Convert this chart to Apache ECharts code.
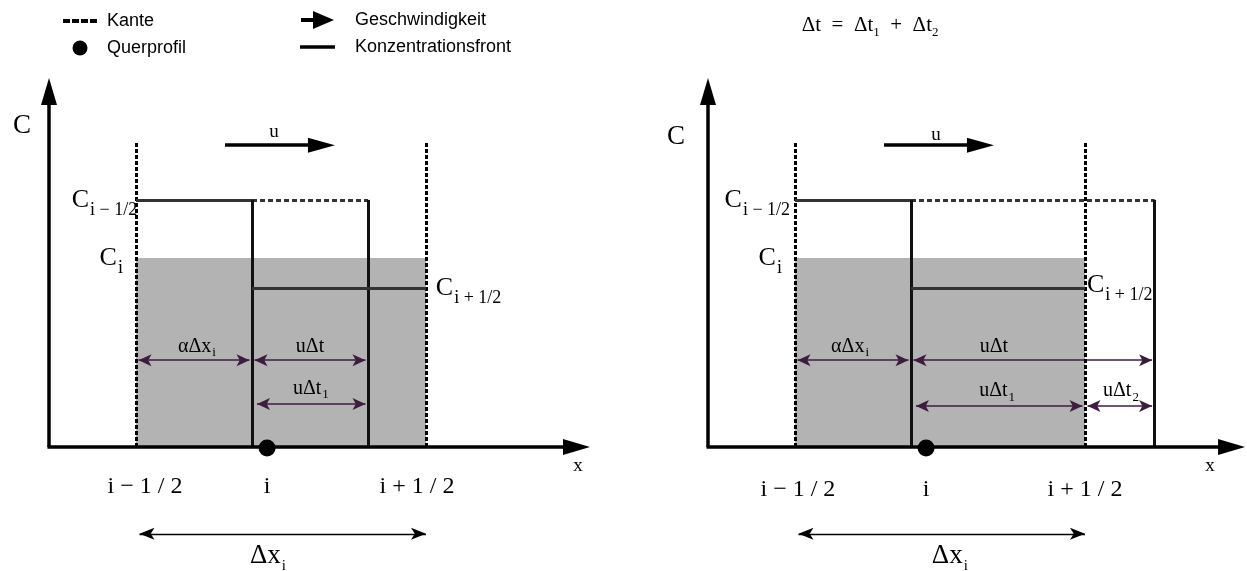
<!DOCTYPE html>
<html><head><meta charset="utf-8">
<script src="https://cdn.jsdelivr.net/npm/echarts@6/dist/echarts.min.js"></script>
<style>html,body{margin:0;padding:0;background:#fff}#c{width:1247px;height:571px}</style>
</head><body><div id="c"></div>
<script>
// ---------- data (in units of the cell width Δx_i and of the C axis) ----------
const legendNames = ['Kante', 'Querprofil', 'Geschwindigkeit', 'Konzentrationsfront'];
const tickLabels = ['i − 1 / 2', 'i', 'i + 1 / 2'];
const edgeX = [0, 1];                 // Kanten i-1/2 und i+1/2
const profileX = 0.452;               // Querprofil i
const alphaX = 0.4;                   // α·Δx_i
const frontX = [0.8, 1.24];           // Front nach u·Δt (links / rechts)
const cLevels = [0.677, 0.518, 0.436];// C_{i-1/2}, C_i, C_{i+1/2}
const edgeTop = 0.836;                // Höhe der Kanten
const axisOrigin = -0.3;              // Lage der C-Achse
const axisTop = 1.011;                // Spitze der C-Achse
const axisEnd = [1.5655, 1.552];      // Spitze der x-Achse (links / rechts)

// ---------- styling ----------
const SERIF = 'Liberation Serif';
const SANS = 'Liberation Sans';
const PX = 290, PY = 365;             // pixels per unit (grid extents below)
const PURPLE = '#3d1c40';
const rich = {
  A:  {fontFamily: SERIF, fontSize: 27, lineHeight: 32, color: '#000'},
  U:  {fontFamily: SERIF, fontSize: 19, lineHeight: 24, color: '#000'},
  C:  {fontFamily: SERIF, fontSize: 26, lineHeight: 32, color: '#000'},
  Cs: {fontFamily: SERIF, fontSize: 18, lineHeight: 12, padding: [20, 0, 0, 1], color: '#000'},
  M:  {fontFamily: SERIF, fontSize: 20, lineHeight: 26, color: '#000'},
  Ms: {fontFamily: SERIF, fontSize: 13, lineHeight: 12, padding: [12, 0, 0, 1], color: '#000'},
  T:  {fontFamily: SERIF, fontSize: 24, lineHeight: 30, color: '#000'},
  D:  {fontFamily: SERIF, fontSize: 27, lineHeight: 32, color: '#000'},
  Ds: {fontFamily: SERIF, fontSize: 15, lineHeight: 12, padding: [20, 0, 0, 1], color: '#000'},
  F:  {fontFamily: SERIF, fontSize: 21, lineHeight: 26, color: '#000'},
  Fs: {fontFamily: SERIF, fontSize: 13, lineHeight: 10, padding: [15, 0, 0, 0], color: '#000'}
};

function seg(x1, y1, x2, y2, extra) { return Object.assign({coords: [[x1, y1], [x2, y2]]}, extra || {}); }
function both(w, h) { return [[w, h], [w, h]]; }

function panelSeries(p) {
  const f = frontX[p];
  const ax = {coordinateSystem: 'cartesian2d', xAxisIndex: p, yAxisIndex: p};
  const gap = 2.5 / PX;        // small clearance of arrow tips next to thick lines
  const series = [];
  // shaded concentration C_i over the cell
  series.push(Object.assign({
    type: 'custom', z: 1, silent: true,
    data: [[edgeX[0], 0, edgeX[1], cLevels[1]]],
    renderItem: function (params, api) {
      const a = api.coord([api.value(0), api.value(3)]);
      const b = api.coord([api.value(2), api.value(1)]);
      return {type: 'rect', shape: {x: a[0], y: a[1], width: b[0] - a[0], height: b[1] - a[1]}, style: {fill: '#b3b3b3'}};
    }
  }, ax));
  // dimension arrows
  const dimA = 0.238, dimB = p === 0 ? 0.118 : 0.112;
  const dims = [seg(edgeX[0] + gap, dimA, alphaX - gap, dimA), seg(alphaX + gap, dimA, f - gap, dimA)];
  if (p === 0) dims.push(seg(alphaX + 2 * gap, dimB, f - gap, dimB));
  else { dims.push(seg(alphaX + 2 * gap, dimB, edgeX[1] - gap, dimB)); dims.push(seg(edgeX[1] + gap, dimB, f - gap, dimB)); }
  series.push(Object.assign({
    type: 'lines', z: 3, silent: true, symbol: ['arrow', 'arrow'], symbolSize: both(9, 13),
    lineStyle: {color: PURPLE, width: 1.6, opacity: 1}, data: dims
  }, ax));
  // Δx_i arrow below the axis
  series.push(Object.assign({
    type: 'lines', z: 3, silent: true, symbol: ['arrow', 'arrow'], symbolSize: both(9, 15),
    lineStyle: {color: '#000', width: 1.4, opacity: 1},
    data: [seg(edgeX[0] + 0.012, -0.238, edgeX[1], -0.238)]
  }, ax));
  // Kanten (dashed edges)
  series.push(Object.assign({
    type: 'lines', name: legendNames[0], z: 4, silent: true,
    lineStyle: {color: '#000', width: 3, type: [4, 2], opacity: 1},
    data: [seg(edgeX[0], 0, edgeX[0], edgeTop), seg(edgeX[1], 0, edgeX[1], edgeTop)]
  }, ax));
  // Konzentrationsfront
  series.push(Object.assign({
    type: 'lines', name: legendNames[3], z: 4, silent: true,
    lineStyle: {color: '#333', width: 3, opacity: 1},
    data: [
      seg(edgeX[0], cLevels[0], alphaX, cLevels[0]),
      seg(alphaX, cLevels[0], f, cLevels[0], {lineStyle: {type: [5, 3], color: '#333', width: 3}}),
      seg(alphaX, 0, alphaX, cLevels[0], {lineStyle: {color: '#111', width: 3}}),
      seg(f, 0, f, cLevels[0], {lineStyle: {color: '#111', width: 3}}),
      seg(alphaX, cLevels[2], edgeX[1], cLevels[2])
    ]
  }, ax));
  // Geschwindigkeit u
  series.push(Object.assign({
    type: 'lines', name: legendNames[2], z: 4, silent: true,
    symbol: ['none', 'triangle'], symbolSize: both(15, 27),
    lineStyle: {color: '#000', width: 3.5, opacity: 1},
    data: [seg(0.307, 0.827, 0.686 - 13.5 / PX, 0.827)]
  }, ax));
  // axes with arrows
  series.push(Object.assign({
    type: 'lines', z: 5, silent: true,
    symbol: ['none', 'triangle'], symbolSize: both(16, 27),
    lineStyle: {color: '#000', width: 3.5, opacity: 1},
    data: [
      seg(axisOrigin, 0, axisOrigin, axisTop - 13.5 / PY),
      seg(axisOrigin - 1.5 / PX, 0, axisEnd[p] - 13.5 / PX, 0)
    ]
  }, ax));
  // Querprofil
  series.push(Object.assign({
    type: 'scatter', name: legendNames[1], z: 6, silent: true,
    symbol: 'circle', symbolSize: 17, itemStyle: {color: '#000', opacity: 1},
    data: [[profileX, -0.003]]
  }, ax));
  // text labels
  const L = [];
  function lab(x, y, text, align) {
    L.push({value: [x, y], label: {formatter: function () { return text; }, align: align || 'center'}});
  }
  if (p === 0) {
    lab(-0.393, 0.879, '{A|C}');
    lab(0.476, 0.863, '{U|u}');
    lab(edgeX[0] + 0.004, cLevels[0], '{C|C}{Cs|i − 1/2}', 'right');
    lab(-0.045, cLevels[1], '{C|C}{Cs|i}', 'right');
    lab(edgeX[1] + 0.034, cLevels[2], '{C|C}{Cs|i + 1/2}', 'left');
    lab(0.21, 0.276, '{M|αΔx}{Ms|i}');
    lab(0.60, 0.276, '{M|uΔt}');
    lab(0.603, 0.16, '{M|uΔt}{Ms|1}');
    lab(0.031, -0.11, '{T|' + tickLabels[0] + '}');
    lab(profileX, -0.11, '{T|' + tickLabels[1] + '}');
    lab(0.969, -0.11, '{T|' + tickLabels[2] + '}');
    lab(1.524, -0.052, '{U|x}');
    lab(0.455, -0.299, '{D|Δx}{Ds|i}');
  } else {
    lab(-0.41, 0.849, '{A|C}');
    lab(0.486, 0.855, '{U|u}');
    lab(edgeX[0] - 0.017, cLevels[0], '{C|C}{Cs|i − 1/2}', 'right');
    lab(-0.045, cLevels[1], '{C|C}{Cs|i}', 'right');
    lab(edgeX[1] + 0.007, cLevels[2] + 0.008, '{C|C}{Cs|i + 1/2}', 'left');
    lab(0.19, 0.276, '{M|αΔx}{Ms|i}');
    lab(0.686, 0.276, '{M|uΔt}');
    lab(0.697, 0.153, '{M|uΔt}{Ms|1}');
    lab(1.124, 0.153, '{M|uΔt}{Ms|2}');
    lab(0.01, -0.118, '{T|' + tickLabels[0] + '}');
    lab(profileX, -0.118, '{T|' + tickLabels[1] + '}');
    lab(1.0, -0.118, '{T|' + tickLabels[2] + '}');
    lab(1.431, -0.052, '{U|x}');
    lab(0.534, -0.299, '{D|Δx}{Ds|i}');
    lab(0.259, 1.156, '{F|Δt\u2002=\u2002Δt}{Fs|1}{F|\u2002+\u2002Δt}{Fs|2}');
  }
  series.push(Object.assign({
    type: 'scatter', z: 7, silent: true, symbol: 'circle', symbolSize: 1,
    itemStyle: {color: 'rgba(0,0,0,0)', opacity: 1},
    label: {show: true, position: 'inside', verticalAlign: 'middle', rich: rich, color: '#000', opacity: 1},
    data: L
  }, ax));
  return series;
}

const dashIcon = 'path://M0,0h7v4h-7z M9,0h7v4h-7z M18,0h7v4h-7z M27,0h7v4h-7z';
const arrowIcon = 'path://M0,7h12v-7l21,9l-21,9v-7h-12z';
const lineIcon = 'path://M0,0h35v3.5h-35z';
const legendText = {fontFamily: SANS, fontSize: 18, color: '#000', lineHeight: 20};
const blackItem = {color: '#000', borderWidth: 0, opacity: 1};

const option = {
  animation: false,
  backgroundColor: '#fff',
  grid: [
    {left: 0, top: 0, width: 623, height: 571},
    {left: 623, top: 0, width: 624, height: 571}
  ],
  xAxis: [
    {gridIndex: 0, type: 'value', min: -136 / PX, max: (623 - 136) / PX, show: false},
    {gridIndex: 1, type: 'value', min: (623 - 795) / PX, max: (1247 - 795) / PX, show: false}
  ],
  yAxis: [
    {gridIndex: 0, type: 'value', min: (447 - 571) / PY, max: 447 / PY, show: false},
    {gridIndex: 1, type: 'value', min: (447 - 571) / PY, max: 447 / PY, show: false}
  ],
  legend: [
    {left: 63, top: 11, padding: 0, orient: 'vertical', itemWidth: 34, itemHeight: 15, itemGap: 7,
     selectedMode: false, textStyle: Object.assign({padding: [0, 0, 0, 5]}, legendText),
     data: [{name: legendNames[0], icon: dashIcon, itemStyle: blackItem},
            {name: legendNames[1], icon: 'circle', itemStyle: blackItem}]},
    {left: 300, top: 10, padding: 0, orient: 'vertical', itemWidth: 35, itemHeight: 18, itemGap: 7,
     selectedMode: false, textStyle: Object.assign({padding: [0, 0, 0, 15]}, legendText),
     data: [{name: legendNames[2], icon: arrowIcon, itemStyle: blackItem},
            {name: legendNames[3], icon: lineIcon, itemStyle: blackItem}]}
  ],
  series: panelSeries(0).concat(panelSeries(1))
};
const chart = echarts.init(document.getElementById('c'), null, {renderer: 'canvas'});
chart.setOption(option);
</script></body></html>
